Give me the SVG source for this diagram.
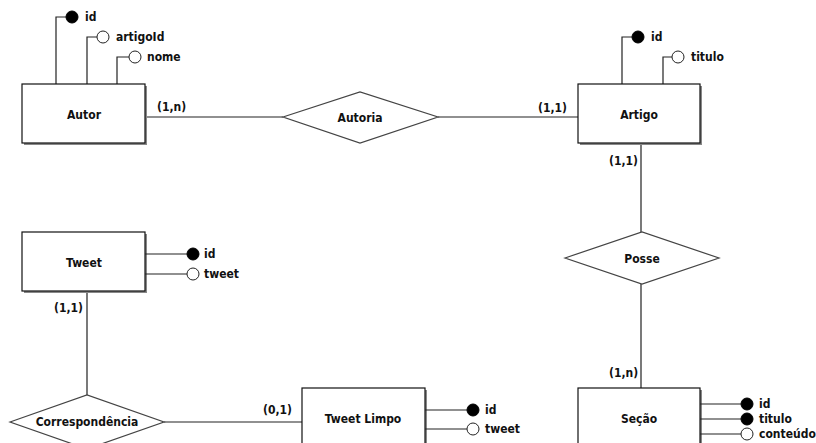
<svg xmlns="http://www.w3.org/2000/svg" width="816" height="443" viewBox="0 0 816 443">
<style>
text{font-family:"DejaVu Sans Condensed","DejaVu Sans","Liberation Sans",sans-serif;font-stretch:condensed;font-weight:bold;font-size:12px;fill:#111}
.c{text-anchor:middle}
.box{fill:#fff;stroke:#111;stroke-width:1.2}
.sh{fill:#888}
.rel{fill:#fff;stroke:#444;stroke-width:1.2}
.ln{stroke:#222;stroke-width:1.2;fill:none}
.pk{fill:#000;stroke:#000;stroke-width:1}
.at{fill:#fff;stroke:#222;stroke-width:1}
</style>
<rect width="816" height="443" fill="#fff"/>
<g id="connectors">
<path class="ln" d="M145 117H283M438 117H578"/>
<path class="ln" d="M641 143V232M641 284V388"/>
<path class="ln" d="M87 291V395M164 422H302"/>
<text x="157" y="111">(1,n)</text>
<text x="538" y="112">(1,1)</text>
<text x="609" y="165">(1,1)</text>
<text x="609" y="377">(1,n)</text>
<text x="54" y="312">(1,1)</text>
<text x="263" y="414">(0,1)</text>
</g>
<g id="autor">
<path class="ln" d="M56 84V17H66M87 84V37H97M117 84V57H129"/>
<circle class="pk" cx="72" cy="17" r="6"/>
<circle class="at" cx="103" cy="37" r="6"/>
<circle class="at" cx="135" cy="57" r="6"/>
<text x="85" y="21">id</text>
<text x="116" y="41">artigoId</text>
<text x="147" y="61">nome</text>
<rect class="sh" x="24" y="86" width="123" height="59"/>
<rect class="box" x="22" y="84" width="123" height="59"/>
<text class="c" x="84" y="119">Autor</text>
</g>
<g id="autoria">
<polygon class="rel" points="283,117 360,92 438,117 360,143"/>
<text class="c" x="360" y="122">Autoria</text>
</g>
<g id="artigo">
<path class="ln" d="M622 84V37H632M663 84V57H672"/>
<circle class="pk" cx="638" cy="37" r="6"/>
<circle class="at" cx="678" cy="57" r="6"/>
<text x="651" y="41">id</text>
<text x="691" y="61">titulo</text>
<rect class="sh" x="580" y="86" width="122" height="59"/>
<rect class="box" x="578" y="84" width="122" height="59"/>
<text class="c" x="639" y="119">Artigo</text>
</g>
<g id="posse">
<polygon class="rel" points="565,258 642,232 719,258 642,284"/>
<text class="c" x="642" y="263">Posse</text>
</g>
<g id="secao">
<rect class="sh" x="580" y="390" width="122" height="59"/>
<rect class="box" x="578" y="388" width="122" height="59"/>
<text class="c" x="639" y="423">Seção</text>
<path class="ln" d="M700 404H741M700 419H741M700 434H741"/>
<circle class="pk" cx="747" cy="404" r="6"/>
<circle class="pk" cx="747" cy="419" r="6"/>
<circle class="at" cx="747" cy="434" r="6"/>
<text x="759" y="408">id</text>
<text x="759" y="423">titulo</text>
<text x="759" y="438">conteúdo</text>
</g>
<g id="tweet">
<rect class="sh" x="24" y="234" width="123" height="59"/>
<rect class="box" x="22" y="232" width="123" height="59"/>
<text class="c" x="84" y="267">Tweet</text>
<path class="ln" d="M145 254H187M145 274H187"/>
<circle class="pk" cx="193" cy="254" r="6"/>
<circle class="at" cx="193" cy="274" r="6"/>
<text x="204" y="258">id</text>
<text x="204" y="278">tweet</text>
</g>
<g id="correspondencia">
<polygon class="rel" points="10,422 87,395 164,422 87,449"/>
<text class="c" x="87" y="426">Correspondência</text>
</g>
<g id="tweetlimpo">
<rect class="sh" x="304" y="390" width="123" height="59"/>
<rect class="box" x="302" y="388" width="123" height="59"/>
<text class="c" x="363" y="423">Tweet Limpo</text>
<path class="ln" d="M425 410H467M425 429H467"/>
<circle class="pk" cx="473" cy="410" r="6"/>
<circle class="at" cx="473" cy="429" r="6"/>
<text x="485" y="414">id</text>
<text x="485" y="433">tweet</text>
</g>
</svg>
